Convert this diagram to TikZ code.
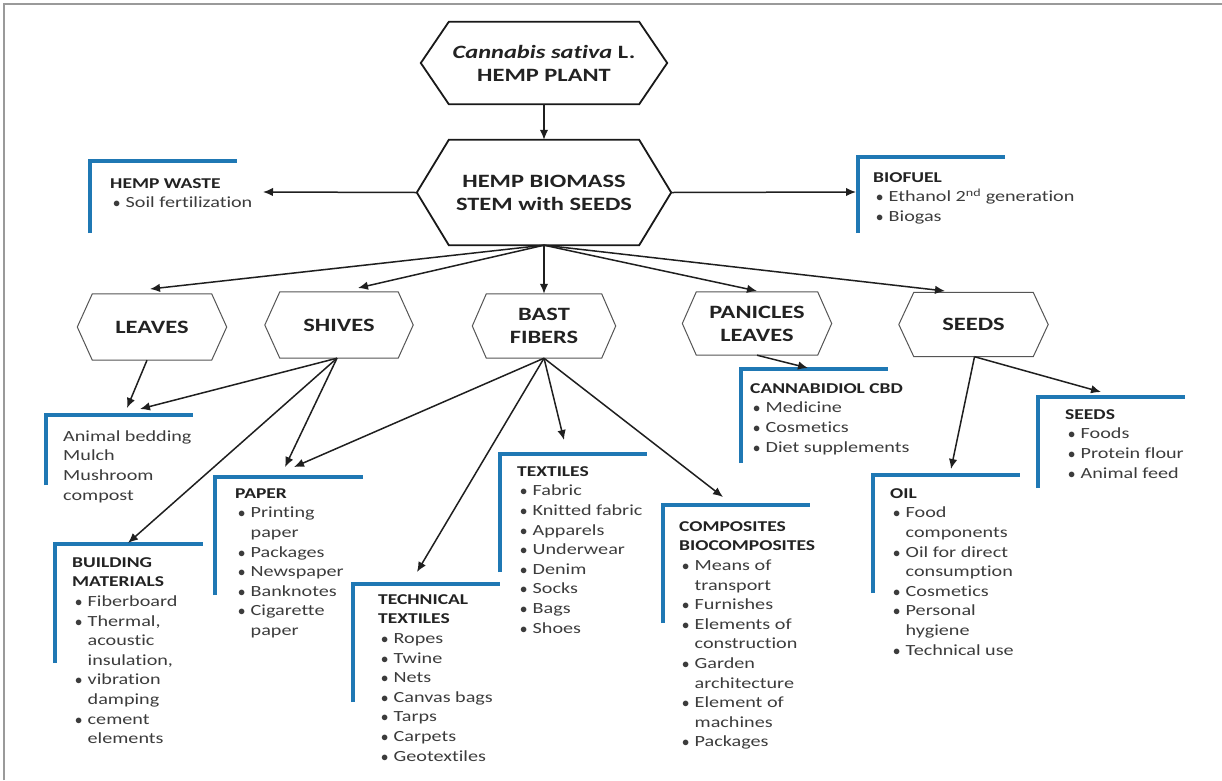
\documentclass[tikz,border=0pt]{standalone}
\usepackage{fontspec}
\setmainfont{Carlito}[FakeStretch=1.3, Ligatures={NoCommon}]
\usetikzlibrary{arrows.meta}
\definecolor{bracketblue}{HTML}{1F78B4}
\definecolor{txtgrey}{HTML}{3C3C3C}
\definecolor{headgrey}{HTML}{222222}
\definecolor{hexgrey}{HTML}{555555}
\definecolor{framegrey}{HTML}{9A9A9A}
\newcommand\bl{\hspace*{3pt}\makebox[12.5pt][l]{$\bullet$}}
\newcommand\ct{\hspace*{15.5pt}}
\newcommand\fl{\rule{0pt}{12pt}}
\newcommand\hd[1]{{\fontsize{15}{19.6}\selectfont\bfseries\color{headgrey}#1}}
\newcommand\hexpath[3]{\draw[#3] (#1.west) -- ([xshift=#2pt]#1.north west) -- ([xshift=-#2pt]#1.north east) -- (#1.east) -- ([xshift=-#2pt]#1.south east) -- ([xshift=#2pt]#1.south west) -- cycle;}
\tikzset{
  hexlabel/.style={shape=rectangle, inner sep=0pt, draw=none, align=center, text=headgrey,
    font=\fontsize{18.8}{23}\selectfont\bfseries},
  mainhex/.style={draw=black!90, line width=1.8pt, line join=miter},
  subhex/.style={draw=hexgrey, line width=1pt},
  txt/.style={anchor=north west, inner sep=0pt, align=left, text=txtgrey,
    font=\fontsize{15.5}{19.6}\selectfont},
  bracket/.style={draw=bracketblue, line width=3.5pt},
  arr/.style={-{Latex[length=10pt,width=8.5pt]}, line width=1.5pt, draw=black!88}
}
\begin{document}
\begin{tikzpicture}[x=1pt,y=-1pt]
\useasboundingbox (0,0) rectangle (1222,780);
\fill[white] (0,0) rectangle (1222,780);
\draw[framegrey, line width=1.2pt] (4,780) -- (4,4) -- (1222,4);

% hexagons
\node[hexlabel, minimum width=246pt, minimum height=82pt] (plant) at (544,63) {\textit{Cannabis sativa} L.\\HEMP PLANT};
\hexpath{plant}{28}{mainhex}
\node[hexlabel, minimum width=254pt, minimum height=105pt] (bio) at (544,192.5) {HEMP BIOMASS\\STEM with SEEDS};
\hexpath{bio}{32}{mainhex}
\node[hexlabel, minimum width=149pt, minimum height=66pt] (leaves) at (152,327) {LEAVES};
\hexpath{leaves}{15}{subhex}
\node[hexlabel, minimum width=148pt, minimum height=66pt] (shives) at (339,325) {SHIVES};
\hexpath{shives}{15}{subhex}
\node[hexlabel, minimum width=143pt, minimum height=64pt] (bast) at (544,326) {BAST\\FIBERS};
\hexpath{bast}{14}{subhex}
\node[hexlabel, minimum width=149pt, minimum height=63pt] (pan) at (757,323.5) {PANICLES\\LEAVES};
\hexpath{pan}{14}{subhex}
\node[hexlabel, minimum width=149pt, minimum height=64pt] (seeds) at (973.5,324.5) {SEEDS};
\hexpath{seeds}{15}{subhex}

% brackets
\draw[bracket] (90,233) -- (90,161) -- (237,161);
\draw[bracket] (858,233) -- (858,157) -- (1005,157);
\draw[bracket] (46,485) -- (46,415) -- (193,415);
\draw[bracket] (55,663) -- (55,544) -- (203,544);
\draw[bracket] (215,595) -- (215,477) -- (363,477);
\draw[bracket] (353,702) -- (353,584) -- (500,584);
\draw[bracket] (500,572) -- (500,454) -- (647,454);
\draw[bracket] (663,623) -- (663,505) -- (810,505);
\draw[bracket] (741,463) -- (741,369) -- (888,369);
\draw[bracket] (1038,488) -- (1038,397) -- (1185,397);
\draw[bracket] (873,593) -- (873,475) -- (1020,475);

% texts
\node[txt] (wasteT) at (110,176) {\fl\hd{HEMP WASTE}\\\bl Soil fertilization};
\node[txt] (fuelT) at (873,170) {\fl\hd{BIOFUEL}\\\bl Ethanol 2\textsuperscript{nd} generation\\\bl Biogas};
\node[txt] (animalT) at (63,429) {\fl Animal bedding\\Mulch\\Mushroom\\compost};
\node[txt] (buildT) at (72,555) {\fl\hd{BUILDING}\\\hd{MATERIALS}\\\bl Fiberboard\\\bl Thermal,\\\ct acoustic\\\ct insulation,\\\bl vibration\\\ct damping\\\bl cement\\\ct elements};
\node[txt] (paperT) at (235,486) {\fl\hd{PAPER}\\\bl Printing\\\ct paper\\\bl Packages\\\bl Newspaper\\\bl Banknotes\\\bl Cigarette\\\ct paper};
\node[txt] (techT) at (378,592) {\fl\hd{TECHNICAL}\\\hd{TEXTILES}\\\bl Ropes\\\bl Twine\\\bl Nets\\\bl Canvas bags\\\bl Tarps\\\bl Carpets\\\bl Geotextiles};
\node[txt] (textT) at (517,464) {\fl\hd{TEXTILES}\\\bl Fabric\\\bl Knitted fabric\\\bl Apparels\\\bl Underwear\\\bl Denim\\\bl Socks\\\bl Bags\\\bl Shoes};
\node[txt] (compT) at (679,519) {\fl\hd{COMPOSITES}\\\hd{BIOCOMPOSITES}\\\bl Means of\\\ct transport\\\bl Furnishes\\\bl Elements of\\\ct construction\\\bl Garden\\\ct architecture\\\bl Element of\\\ct machines\\\bl Packages};
\node[txt] (cbdT) at (750,381) {\fl\hd{CANNABIDIOL CBD}\\\bl Medicine\\\bl Cosmetics\\\bl Diet supplements};
\node[txt] (seedT) at (1065,407) {\fl\hd{SEEDS}\\\bl Foods\\\bl Protein flour\\\bl Animal feed};
\node[txt] (oilT) at (890,486) {\fl\hd{OIL}\\\bl Food\\\ct components\\\bl Oil for direct\\\ct consumption\\\bl Cosmetics\\\bl Personal\\\ct hygiene\\\bl Technical use};

% arrow end coordinates
\coordinate (wasteTip) at (263,192);
\coordinate (fuelTip) at (856,192);
\coordinate (leavesTip) at (150,289);
\coordinate (shivesTip) at (358,288);
\coordinate (panTip) at (757,291);
\coordinate (seedsTip) at (945,291);
\coordinate (animalTipA) at (127,408);
\coordinate (animalTipB) at (140,409);
\coordinate (buildTip) at (128,543);
\coordinate (paperTipA) at (285,467);
\coordinate (paperTipB) at (294,467);
\coordinate (techTip) at (417,572);
\coordinate (textTip) at (564,440);
\coordinate (compTip) at (723,497);
\coordinate (cbdTip) at (808,368);
\coordinate (oilTip) at (951,469);
\coordinate (seedboxTip) at (1101,392);

% arrows
\draw[arr] (plant.south) -- (bio.north);
\draw[arr] (bio.west) -- (wasteTip);
\draw[arr] (bio.east) -- (fuelTip);
\draw[arr] (bio.south) -- (leavesTip);
\draw[arr] (bio.south) -- (shivesTip);
\draw[arr] (bio.south) -- (bast.north);
\draw[arr] (bio.south) -- (panTip);
\draw[arr] (bio.south) -- (seedsTip);
\draw[arr] ([xshift=-5pt]leaves.south) -- (animalTipA);
\draw[arr] ([xshift=-2pt]shives.south) -- (animalTipB);
\draw[arr] ([xshift=-2pt]shives.south) -- (buildTip);
\draw[arr] ([xshift=-2pt]shives.south) -- (paperTipA);
\draw[arr] (bast.south) -- (paperTipB);
\draw[arr] (bast.south) -- (techTip);
\draw[arr] (bast.south) -- (textTip);
\draw[arr] (bast.south) -- (compTip);
\draw[arr] (pan.south) -- (cbdTip);
\draw[arr] ([xshift=1pt]seeds.south) -- (oilTip);
\draw[arr] ([xshift=1pt]seeds.south) -- (seedboxTip);
\end{tikzpicture}
\end{document}
